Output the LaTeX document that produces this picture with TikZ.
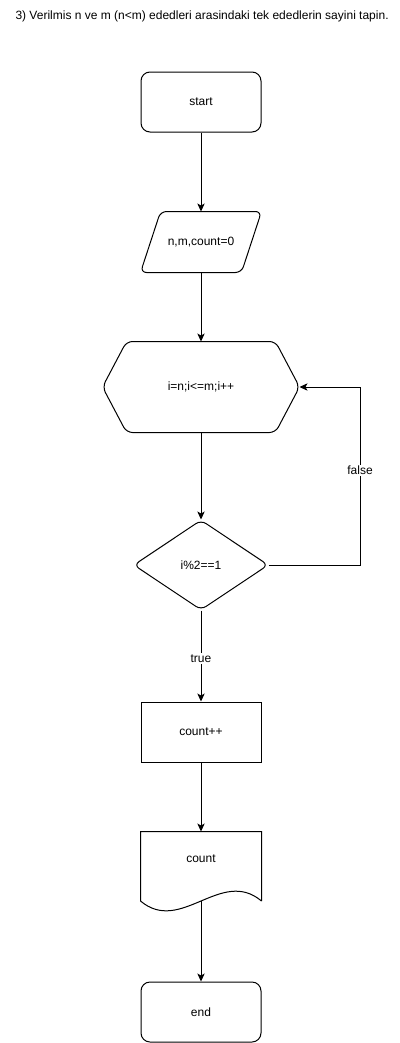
\documentclass[tikz,border=0pt]{standalone}
\usepackage{fontspec}
\setmainfont{Liberation Sans}
\usetikzlibrary{arrows.meta,shapes.geometric}

\begin{document}
\begin{tikzpicture}[x=0.75pt, y=-0.75pt, line width=0.75pt,
			font=\fontsize{9}{11}\selectfont,
			>={Stealth[length=6pt, width=5.5pt, inset=1.5pt]},
			term/.style={draw, rounded corners=6.75pt, minimum width=90pt,
				minimum height=45pt, inner sep=0pt, text centered},
			proc/.style={draw, minimum width=90pt, minimum height=45pt,
				inner sep=0pt, text centered},
			box/.style={draw=none, minimum width=90pt, minimum height=45pt,
				inner sep=0pt, text centered},
			cond/.style={draw, diamond, rounded corners=4.5pt, minimum width=101pt,
				minimum height=67.5pt, inner sep=0pt, text centered},
			outline/.style={draw, rounded corners=4.5pt},
			lbl/.style={fill=white, inner sep=1pt}]
			\useasboundingbox (0,0) rectangle (400,1043);
			\node[anchor=base west, inner sep=0pt] (title) at (15, 19) {3) Verilmis n ve m (n<m) ededleri arasindaki tek ededlerin sayini tapin.};
			\node[term] (start) at (201, 102) {start};
			\node[box] (inp) at (201, 242) {n,m,count=0};
			\node[box, minimum width=147pt, minimum height=67.5pt] (loop) at (201, 387) {i=n;i<=m;i++};
			\node[cond] (chk) at (201, 565) {i\%2==1};
			\node[proc] (inc) at (201, 732) {count++};
			\node[box, minimum height=40.5pt] (out) at (201, 859) {count};
			\node[term] (end) at (201, 1012) {end};
			\coordinate (outb) at (201, 901);
			\coordinate (back) at (360, 565);
			
			% shapes without a tikz node shape
			\draw[outline] ([xshift=15pt]inp.north west) -- (inp.north east)
				-- ([xshift=-15pt]inp.south east) -- (inp.south west) -- cycle;
			\draw[outline] ([xshift=18pt]loop.north west) -- ([xshift=-18pt]loop.north east)
				-- (loop.east) -- ([xshift=-18pt]loop.south east)
				-- ([xshift=18pt]loop.south west) -- (loop.west) -- cycle;
			\draw (outb -| out.east) -- (out.north east) -- (out.north west) -- (outb -| out.west)
				.. controls (181, 935) and (221, 867) .. (outb -| out.east);
			
			\path[->] 	(start)  edge   (inp);
			\path[->] 	(inp)  edge   (loop);
			\path[->] 	(loop)  edge   (chk);
			\path[->] 	(chk)  edge  node[lbl, pos=0.53] {true}  (inc);
			\path[->] 	(inc)  edge   (out);
			\path[->] 	(outb)  edge   (end);
			\draw[->] 	(chk.east) -- (back) -- node[lbl, pos=0.53] {false} (back |- loop.east) -- (loop.east);
			\end{tikzpicture}
\end{document}
